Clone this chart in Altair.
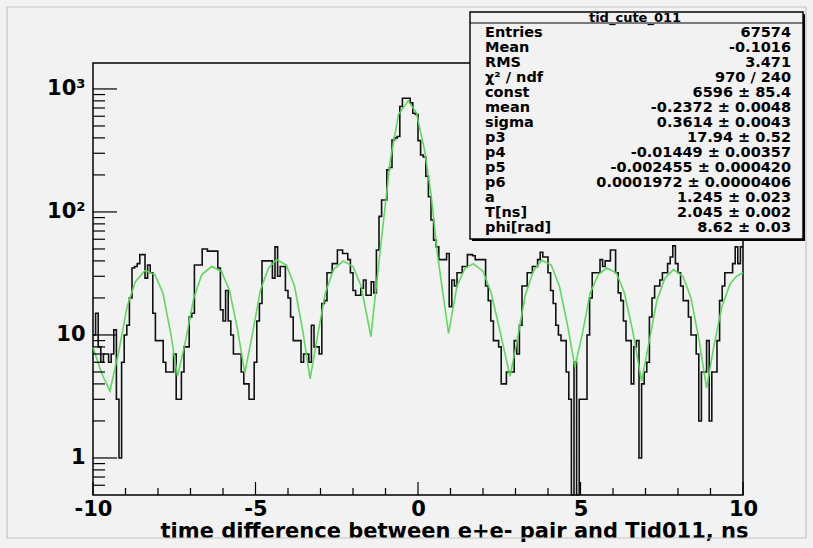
import altair as alt
import pandas as pd

# Histogram: 250 bins over [-10, 10] ns
X_MIN, X_MAX = -10.0, 10.0
N_BINS = 250
Y_MIN, Y_MAX = 0.5, 1625.0

counts = [
    10, 15, 8, 6, 7, 7, 6, 7, 11, 3,
    1, 6, 10, 12, 20, 35, 36, 38, 45, 45,
    29, 37, 32, 15, 9, 9, 9, 6, 5, 5,
    5, 7, 3, 3, 5, 8, 8, 14, 15, 37,
    37, 37, 50, 50, 48, 48, 48, 48, 35, 16,
    13, 23, 13, 10, 7, 7, 7, 5, 4, 4,
    3, 3, 6, 13, 18, 40, 40, 40, 40, 29,
    52, 30, 36, 36, 23, 20, 14, 9, 9, 9,
    6, 7, 7, 6, 12, 8, 8, 7, 18, 19,
    32, 32, 38, 38, 49, 49, 46, 46, 41, 32,
    23, 21, 21, 24, 28, 21, 21, 27, 22, 49,
    92, 125, 125, 220, 230, 385, 400, 410, 720, 840,
    840, 840, 770, 635, 620, 380, 290, 280, 195, 133,
    86, 59, 52, 41, 41, 41, 46, 17, 28, 25,
    32, 32, 36, 36, 45, 45, 44, 41, 41, 41,
    41, 25, 19, 13, 9, 9, 8, 4, 4, 5,
    5, 5, 9, 7, 12, 25, 25, 32, 32, 36,
    36, 41, 47, 43, 43, 32, 23, 18, 12, 10,
    9, 9, 5, 3, 0, 6, 0, 3, 3, 3,
    10, 20, 32, 32, 32, 41, 36, 40, 40, 49,
    49, 32, 22, 19, 13, 9, 9, 4, 8, 9,
    1, 4, 5, 6, 14, 20, 25, 25, 28, 32,
    32, 38, 43, 53, 38, 32, 25, 19, 19, 14,
    10, 10, 7, 2, 5, 5, 9, 2, 5, 5,
    9, 19, 25, 32, 32, 32, 38, 52, 38, 52,
]

# Fit function polyline vertices
fit_x = [
    -10.0, -9.75, -9.48, -9.2, -8.95, -8.7, -8.4, -8.1, -7.85, -7.6,
    -7.4, -7.15, -6.9, -6.65, -6.35, -6.05, -5.8, -5.55, -5.33, -5.1,
    -4.85, -4.6, -4.35, -4.05, -3.8, -3.55, -3.32, -3.1, -2.85, -2.6,
    -2.3, -2.0, -1.75, -1.45, -1.25, -1.05, -0.85, -0.6, -0.3, -0.05,
    0.2, 0.4, 0.6, 0.94, 1.2, 1.45, 1.7, 2.0, 2.25, 2.55,
    2.83, 3.05, 3.3, 3.55, 3.81, 4.1, 4.35, 4.6, 4.83, 5.05,
    5.3, 5.55, 5.81, 6.1, 6.35, 6.6, 6.88, 7.1, 7.35, 7.6,
    7.86, 8.15, 8.4, 8.65, 8.88, 9.1, 9.35, 9.6, 9.8, 10.0,
]
fit_y = [
    8.0, 5.0, 3.5, 7.5, 17, 27, 33.5, 31, 22, 10,
    4.6, 9, 20, 31, 36, 33, 23, 11, 4.9, 10,
    23, 35, 41, 37, 25, 11, 4.4, 9.5, 22, 34,
    40, 36, 25, 9.7, 30, 90, 265, 620, 800, 640,
    320, 140, 45, 10.3, 25, 35, 38, 33, 22, 10,
    4.6, 9, 21, 33, 40.7, 37, 25, 12, 5.5, 10,
    22, 31, 35, 32, 22, 11, 4.2, 8.5, 19, 29,
    34, 30, 20, 9, 3.7, 8, 17, 26, 30, 32,
]

stat_title = "tid_cute_011"
stat_labels = ["Entries", "Mean", "RMS", "χ² / ndf", "const", "mean", "sigma",
               "p3", "p4", "p5", "p6", "a", "T[ns]", "phi[rad]"]
stat_values = ["67574", "-0.1016", "3.471", "970 / 240", "6596 ± 85.4",
               "-0.2372 ± 0.0048", "0.3614 ± 0.0043", "17.94 ± 0.52",
               "-0.01449 ± 0.00357", "-0.002455 ± 0.000420",
               "0.0001972 ± 0.0000406", "1.245 ± 0.023", "2.045 ± 0.002",
               "8.62 ± 0.03"]

x_label_values = [-10, -5, 0, 5, 10]
x_minor_values = [-9, -8, -7, -6, -4, -3, -2, -1, 1, 2, 3, 4, 6, 7, 8, 9]
y_label_values = [1, 10, 100, 1000]
y_minor_values = [0.6, 0.7, 0.8, 0.9,
                  2, 3, 4, 5, 6, 7, 8, 9,
                  20, 30, 40, 50, 60, 70, 80, 90,
                  200, 300, 400, 500, 600, 700, 800, 900]
x_title = "time difference between e+e- pair and Tid011, ns"

W, H = 650, 432
FONT = "DejaVu Sans"
BG = "#f2f2f2"

bin_w = (X_MAX - X_MIN) / N_BINS
hist = pd.DataFrame({
    "x": [X_MIN + i * bin_w for i in range(N_BINS)] + [X_MAX],
    "n": counts + [counts[-1]],
})
fit = pd.DataFrame({"x": fit_x, "y": fit_y})
stats = pd.DataFrame({"label": stat_labels, "value": stat_values,
                      "row": list(range(len(stat_labels)))})
one = pd.DataFrame({"t": [stat_title]})

xs = alt.Scale(domain=[X_MIN, X_MAX], nice=False, zero=False)
ys = alt.Scale(type="log", domain=[Y_MIN, Y_MAX], nice=False)

x_axis = alt.Axis(values=x_label_values, ticks=False, domain=False, grid=False,
                  labelFont=FONT, labelFontWeight="bold", labelFontSize=21,
                  labelColor="black", labelPadding=3, labelFlush=False,
                  labelOverlap=False, labelExpr="'' + datum.value",
                  title=x_title, titleFont=FONT, titleFontWeight="bold",
                  titleFontSize=21, titleColor="black", titleAnchor="end",
                  titleAlign="right", titleBaseline="alphabetic",
                  titleX=W + 5, titleY=42)
y_axis = alt.Axis(values=y_label_values, ticks=False, domain=False, grid=False,
                  labelFont=FONT, labelFontWeight="bold", labelFontSize=21,
                  labelColor="black", labelPadding=8, labelOverlap=False,
                  labelExpr="datum.value == 1000 ? '10³' : datum.value == 100 ? '10²' : datum.value == 10 ? '10' : '1'",
                  title=None)

hist_layer = alt.Chart(hist).transform_calculate(
    yv=f"max(datum.n, {Y_MIN})"
).mark_line(interpolate="step-after", color="#111111", strokeWidth=1.6).encode(
    x=alt.X("x:Q", scale=xs, axis=x_axis),
    y=alt.Y("yv:Q", scale=ys, axis=y_axis),
)

fit_layer = alt.Chart(fit).mark_line(color="#55d855", strokeWidth=1.6, opacity=0.95).encode(
    x=alt.X("x:Q", scale=xs, axis=None),
    y=alt.Y("y:Q", scale=ys, axis=None),
)

# inward ticks on the left axis
y_major = alt.Chart(pd.DataFrame({"v": y_label_values})).mark_rule(color="black", strokeWidth=1.2).encode(
    y=alt.Y("v:Q", scale=ys, axis=None), x=alt.value(0), x2=alt.value(24))
y_minor = alt.Chart(pd.DataFrame({"v": y_minor_values})).mark_rule(color="black", strokeWidth=1.2).encode(
    y=alt.Y("v:Q", scale=ys, axis=None), x=alt.value(0), x2=alt.value(12))
# inward ticks on the bottom axis
x_major = alt.Chart(pd.DataFrame({"v": x_label_values})).mark_rule(color="black", strokeWidth=1.2).encode(
    x=alt.X("v:Q", scale=xs, axis=None), y=alt.value(H), y2=alt.value(H - 13))
x_minor = alt.Chart(pd.DataFrame({"v": x_minor_values})).mark_rule(color="black", strokeWidth=1.2).encode(
    x=alt.X("v:Q", scale=xs, axis=None), y=alt.value(H), y2=alt.value(H - 7))

# statistics box (pixel coordinates relative to the plot frame)
BX0, BX1, BY0, BY1 = 377, 710, -51, 176
box_shadow = alt.Chart(one).mark_rect(fill="black").encode(
    x=alt.value(BX0 + 2), x2=alt.value(BX1 + 2), y=alt.value(BY0 + 2), y2=alt.value(BY1 + 2))
box = alt.Chart(one).mark_rect(fill=BG, stroke="black", strokeWidth=1.4).encode(
    x=alt.value(BX0), x2=alt.value(BX1), y=alt.value(BY0), y2=alt.value(BY1))
box_sep = alt.Chart(one).mark_rule(color="black", strokeWidth=1.2).encode(
    x=alt.value(BX0), x2=alt.value(BX1), y=alt.value(-40), y2=alt.value(-40))
box_title = alt.Chart(one).mark_text(font=FONT, fontWeight="bold", fontSize=13,
                                     align="center", baseline="middle", color="black").encode(
    text="t:N", x=alt.value(542), y=alt.value(-45.5))
row_y = alt.Y("row:Q", scale=alt.Scale(domain=[0, 13], range=[-30, 165]), axis=None)
box_labels = alt.Chart(stats).mark_text(font=FONT, fontWeight="bold", fontSize=14.5,
                                        align="left", baseline="middle", color="black").encode(
    text="label:N", x=alt.value(392), y=row_y)
box_values = alt.Chart(stats).mark_text(font=FONT, fontWeight="bold", fontSize=14.5,
                                        align="right", baseline="middle", color="black").encode(
    text="value:N", x=alt.value(698), y=row_y)

# thin canvas border
canvas_border = alt.Chart(one).mark_rect(fill=None, stroke="#c4c4c4", strokeWidth=1.2).encode(
    x=alt.value(-86), x2=alt.value(713), y=alt.value(-56), y2=alt.value(475))

chart = alt.layer(
    canvas_border, hist_layer, fit_layer, y_major, y_minor, x_major, x_minor,
    box_shadow, box, box_sep, box_title, box_labels, box_values,
).resolve_scale(
    x="independent", y="independent"
).properties(
    width=W, height=H,
    autosize=alt.AutoSizeParams(type="none"),
    padding={"left": 93, "top": 63, "right": 70, "bottom": 53},
    background=BG,
).configure_view(stroke="black", strokeWidth=1.5)

chart.save("out.html", embed_options={"renderer": "svg", "actions": False})
